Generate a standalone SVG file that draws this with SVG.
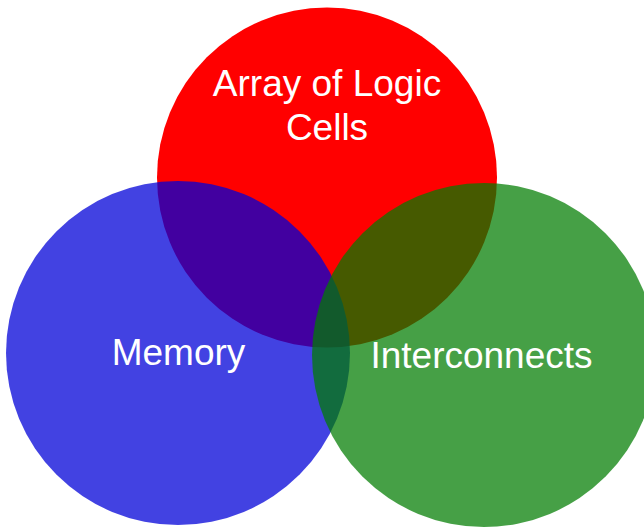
<svg xmlns="http://www.w3.org/2000/svg" width="644" height="529" viewBox="0 0 644 529">
<style>
.lbl{font-family:"Liberation Sans",Arial,sans-serif;font-size:37px;fill:#ffffff;text-anchor:middle}
</style>
<rect width="644" height="529" fill="#ffffff"/>
<g id="logic">
<circle cx="327" cy="177.5" r="170" fill="#ff0000"/>
</g>
<g id="memory">
<circle cx="178" cy="353" r="172" fill="#0000d8" fill-opacity="0.74"/>
</g>
<g id="interconnects">
<circle cx="484" cy="355" r="172" fill="#007c00" fill-opacity="0.725"/>
</g>
<g id="labels">
<text class="lbl" x="327" y="96">Array of Logic</text>
<text class="lbl" x="327" y="140">Cells</text>
<text class="lbl" x="178.5" y="365">Memory</text>
<text class="lbl" x="481.5" y="368">Interconnects</text>
</g>
<g id="connectors"></g>
</svg>
